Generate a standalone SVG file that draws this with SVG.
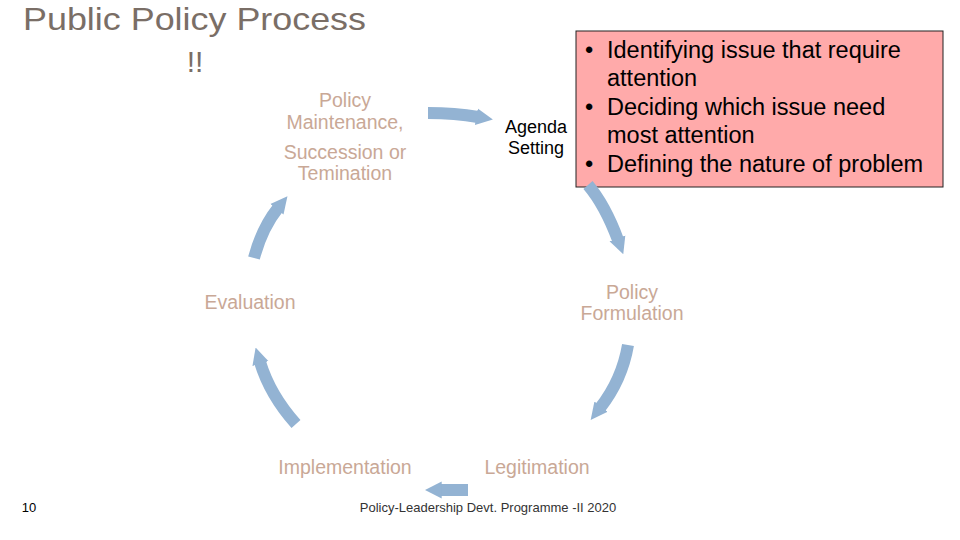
<svg xmlns="http://www.w3.org/2000/svg" width="960" height="540" viewBox="0 0 960 540">
<style>
text{font-family:"Liberation Sans",Arial,sans-serif}
.lbl{font-size:19.5px;fill:#c9a896;text-anchor:middle}
.bx{font-size:23.5px;fill:#000}
.arr{fill:none;stroke:#93b3d3;stroke-width:12;marker-end:url(#h)}
</style>
<defs>
<marker id="h" viewBox="0 0 10 10" refX="1" refY="5" markerWidth="1.4" markerHeight="2.6" orient="auto" markerUnits="strokeWidth">
<path d="M0,0 L10,5 L0,10 Z" fill="#93b3d3"/>
</marker>
</defs>
<rect width="960" height="540" fill="#fff"/>
<g id="title">
<text x="23" y="30" font-size="32" fill="#7a6e66" textLength="343" lengthAdjust="spacingAndGlyphs">Public Policy Process</text>
<text x="195" y="72" font-size="30" fill="#7a6e66" text-anchor="middle">!!</text>
</g>
<g id="box">
<rect x="576" y="31" width="367" height="156" fill="#ffaaaa" stroke="#222" stroke-width="1"/>
<text class="bx" x="585" y="58">•</text><text class="bx" x="607" y="58">Identifying issue that require</text>
<text class="bx" x="607" y="86">attention</text>
<text class="bx" x="585" y="115">•</text><text class="bx" x="607" y="115">Deciding which issue need</text>
<text class="bx" x="607" y="143">most attention</text>
<text class="bx" x="585" y="172">•</text><text class="bx" x="607" y="172">Defining the nature of problem</text>
</g>
<g id="connectors">
<path class="arr" d="M428,113 Q455,113 478,117"/>
<path class="arr" d="M588,185 Q605,205 618,240"/>
<path class="arr" d="M628,345 Q622,380 600,408"/>
<path class="arr" d="M468,490 L440,490"/>
<path class="arr" d="M296,424 Q270,395 260,362"/>
<path class="arr" d="M254,258 Q262,228 278,208"/>
</g>
<g id="agenda"><text x="536" y="133" font-size="18" text-anchor="middle" fill="#000">Agenda</text><text x="536" y="154" font-size="18" text-anchor="middle" fill="#000">Setting</text></g>
<g id="maint">
<text class="lbl" x="345" y="107">Policy</text>
<text class="lbl" x="345" y="129">Maintenance,</text>
<text class="lbl" x="345" y="159">Succession or</text>
<text class="lbl" x="345" y="180">Temination</text>
</g>
<g id="formulation"><text class="lbl" x="632" y="299">Policy</text><text class="lbl" x="632" y="320">Formulation</text></g>
<g id="evaluation"><text class="lbl" x="250" y="309">Evaluation</text></g>
<g id="implementation"><text class="lbl" x="345" y="474">Implementation</text></g>
<g id="legitimation"><text class="lbl" x="537" y="474">Legitimation</text></g>
<g id="footer">
<text x="29" y="512" font-size="13" fill="#000" text-anchor="middle">10</text>
<text x="488" y="512" font-size="13" fill="#333" text-anchor="middle">Policy-Leadership Devt. Programme -II 2020</text>
</g>
</svg>
